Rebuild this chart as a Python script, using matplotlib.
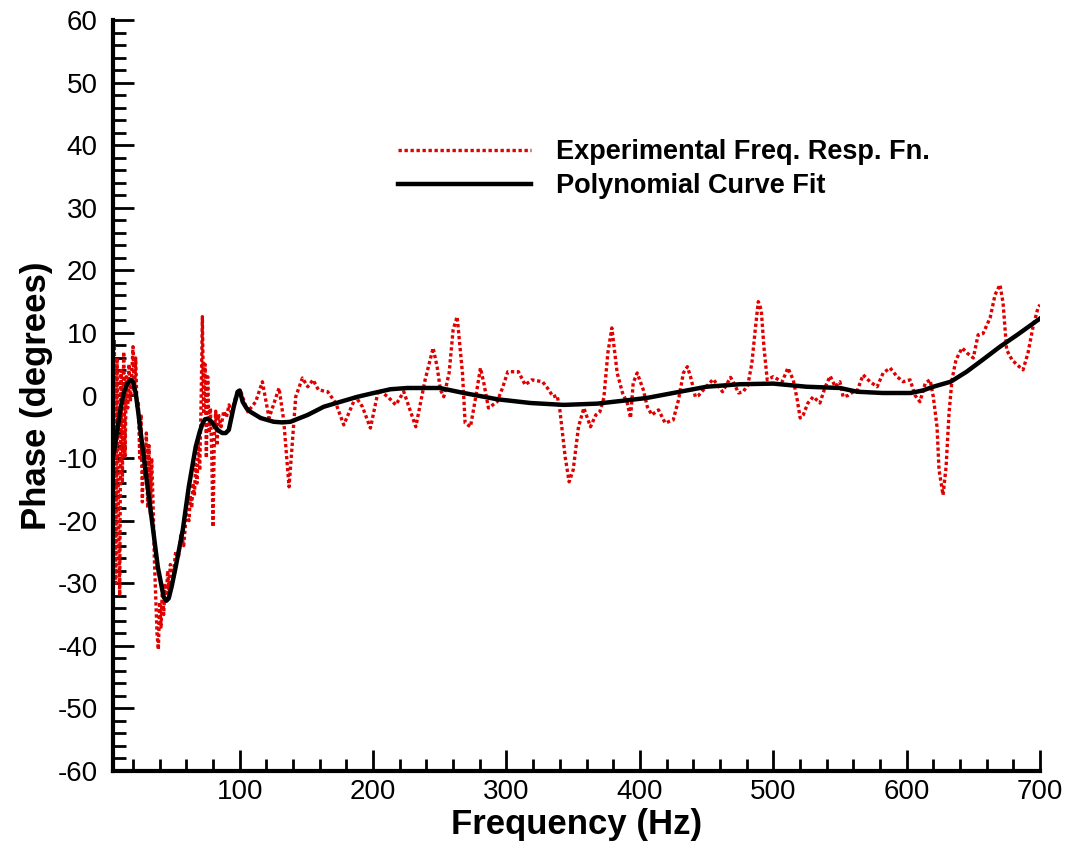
import matplotlib
matplotlib.use('Agg')
import matplotlib.pyplot as plt
from matplotlib.ticker import MultipleLocator

exp_freq = [5, 6, 7, 8, 9, 10, 11, 12, 13, 14, 15, 16, 17, 18, 19, 20, 21, 22, 23, 24,
            25, 26, 27, 28, 29, 30, 31, 32, 33, 34, 35, 36, 37, 38, 39, 40, 41, 42, 43, 44,
            45, 46, 47, 48, 50, 52, 54, 56, 58, 60, 62, 63, 64, 65, 66, 67, 68, 69, 70, 71,
            72, 73, 74, 75, 76, 77, 78, 79, 80, 81, 82, 83, 84, 86, 88, 90, 92, 94, 96, 98,
            101, 106, 112, 117, 122, 129.5, 133, 137, 142, 147, 151, 155, 159, 166, 172, 178,
            187, 192, 198, 204, 211, 217, 223, 232, 239, 245, 248, 250.5, 253, 257, 260, 263,
            267, 269, 273, 277, 280.5, 283, 286.5, 293, 297, 301, 309, 314, 319, 327, 330.7,
            335, 338, 340, 344, 347, 350, 354, 358, 363, 367, 370, 373, 376, 379, 383, 387,
            390.6, 393, 395, 398, 402.6, 405.6, 409, 414, 419, 425, 429, 432.6, 435.6, 438,
            441.6, 444, 447.6, 455, 462, 468, 470, 474, 477.5, 481, 484, 486.5, 488.8, 491,
            493, 495.5, 500, 506.7, 511, 515, 518, 520.2, 522.5, 526, 530, 535, 539, 542.7,
            546.5, 550, 552.4, 556, 560, 563, 567.4, 572.6, 577.9, 582.4, 587.6, 592.9, 597.4,
            602.6, 606.4, 610, 614, 617.6, 620, 622.8, 624.3, 627.3, 629.6, 631.8, 634, 637,
            641.6, 645.3, 650, 653.6, 657.3, 662.6, 666.3, 670, 672.3, 675, 679, 682.8, 687.3,
            691, 694.8, 698.5, 700]
exp_phase = [-8, 9, -30, 6, -18, -32, 4, -14, 7, -10, 3, -2, 5, -1, 3, 7.8, 0, 6, -2, -1,
             -10, -3, -17, -8, -13, -6, -18, -8, -19, -10, -17, -26, -32, -38, -40.6, -33, -37, -31, -35, -30,
             -32, -28, -31, -27, -29, -25, -26, -22, -24, -19, -20, -16, -18, -14, -16, -11, -14, -7, -12, -2,
             12.6, -3, 5, -10, 3, -6, -2, -9, -21, -6, -2.5, -8, -3, -5, -2.5, -3.5, -1.5, -3, -1, 0.5,
             0.5, -2.6, -1.0, 2.2, -3.6, 1.2, -4.0, -14.6, -0.2, 2.8, 1.4, 2.5, 0.9, 0.6, -1.2, -4.7,
             -0.2, -1.8, -5.2, 0.9, -0.2, -1.5, 0.6, -5.0, 2.5, 7.6, 4.6, 0.9, -0.2, 3.6, 10.5, 12.6,
             3.6, -4.4, -5.0, -0.2, 4.4, 2.0, -2.0, -1.0, 1.2, 3.8, 3.8, 1.7, 2.5, 2.2, 1.2,
             -0.2, 0.0, -2.3, -9.8, -13.8, -11.9, -5.0, -2.0, -5.0, -3.1, -2.6, -0.4, 6.8, 10.8, 3.6, 0.4,
             -1.2, -3.6, 2.0, 3.6, 0.9, -1.8, -3.1, -2.3, -4.4, -3.9, -0.7, 3.6, 4.6, 3.0,
             -0.2, 0.0, 0.9, 2.6, 0.6, 2.9, 2.2, 0.4, 0.6, 1.7, 5.2, 10.5, 15.0, 13.7,
             7.8, 2.5, 3.0, 2.2, 4.4, 2.5, -0.7, -3.6, -3.1, -1.2, -0.2, -1.2, 1.4, 3.1,
             1.4, 2.2, -0.2, 0.0, 0.6, 0.8, 3.3, 2.2, 1.4, 3.6, 4.4, 3.0, 2.2,
             2.5, 0.0, -1.0, 2.0, 2.5, -0.2, -5.0, -11.9, -15.9, -11.4, -2.8, 2.5, 5.7,
             7.6, 6.8, 6.0, 9.7, 9.9, 12.4, 16.1, 17.7, 14.8, 7.3, 5.7, 4.9, 4.1,
             6.8, 11.0, 14.0, 14.5]

# Polynomial curve fit
fit_freq = [5.6, 7, 8.6, 10.5, 13, 15.5, 18.3, 20, 22, 24, 25.8, 29.6, 34.8, 38.6, 43, 45,
            46.8, 49, 52, 57.3, 61.8, 67, 70, 72.3, 74, 76, 78, 80.5, 84, 87, 89.5, 91.8,
            95.5, 98.5, 100, 102.2, 105, 108, 115.7, 125.5, 132, 138, 151, 163,
            175.6, 188.4, 200.4, 213, 225.8, 250, 268, 293, 318, 343, 368, 393, 405, 425,
            450, 475, 500, 525, 550, 563, 582, 603, 612, 620, 633, 645, 657, 670, 683, 700]
fit_phase = [-9.2, -7.3, -5.0, -2.3, 0.4, 1.8, 2.5, 2.2, 0.4, -2.8, -6.0, -12.4, -21.0, -27.4, -32.2, -32.8,
             -32.4, -30.5, -27.4, -21.5, -14.6, -8.2, -5.8, -4.4, -3.8, -3.7, -4.0, -4.7, -5.6, -6.0, -6.0, -5.5,
             -1.8, 0.6, 0.8, -1.0, -2.0, -2.6, -3.6, -4.2, -4.3, -4.2, -3.1, -1.8,
             -1.0, -0.2, 0.4, 1.0, 1.2, 1.2, 0.4, -0.6, -1.2, -1.5, -1.3, -0.7, -0.4, 0.4,
             1.4, 1.8, 1.9, 1.4, 1.2, 0.6, 0.4, 0.4, 0.8, 1.4, 2.2, 3.8, 5.7, 7.8, 9.7, 12.3]

plt.rcParams['font.family'] = ['Liberation Sans', 'DejaVu Sans']
plt.rcParams['axes.unicode_minus'] = False

fig = plt.figure(figsize=(10.73, 8.46), dpi=100)
ax = fig.add_axes([113 / 1073, 75 / 846, 927 / 1073, 751 / 846])

ax.plot(exp_freq, exp_phase, color='#e00000', lw=2.4, linestyle=(0, (1, 0.8)),
        label='Experimental Freq. Resp. Fn.')
ax.plot(fit_freq, fit_phase, color='black', lw=3.2, label='Polynomial Curve Fit')

ax.set_xlim(5, 700)
ax.set_ylim(-60, 60)
ax.xaxis.set_major_locator(MultipleLocator(100))
ax.xaxis.set_minor_locator(MultipleLocator(20))
ax.yaxis.set_major_locator(MultipleLocator(10))
ax.yaxis.set_minor_locator(MultipleLocator(2))

for s in ['top', 'right']:
    ax.spines[s].set_visible(False)
for s in ['left', 'bottom']:
    ax.spines[s].set_linewidth(3)

ax.tick_params(which='both', direction='in', width=2, labelsize=20)
ax.tick_params(which='major', length=15)
ax.tick_params(which='minor', length=9)
ax.tick_params(axis='x', pad=6)
ax.tick_params(axis='y', pad=11)

ax.set_xlabel('Frequency (Hz)', fontsize=25, fontweight='bold', labelpad=2)
ax.set_ylabel('Phase (degrees)', fontsize=25, fontweight='bold', labelpad=3)

leg = ax.legend(loc='upper left', bbox_to_anchor=(398 / 1073, (846 - 139) / 846),
                bbox_transform=fig.transFigure, frameon=False,
                prop={'weight': 'bold', 'size': 19.5}, handlelength=4.9, handletextpad=0.95,
                labelspacing=0.3, borderpad=0, borderaxespad=0)

fig.savefig('out.png', dpi=100)
